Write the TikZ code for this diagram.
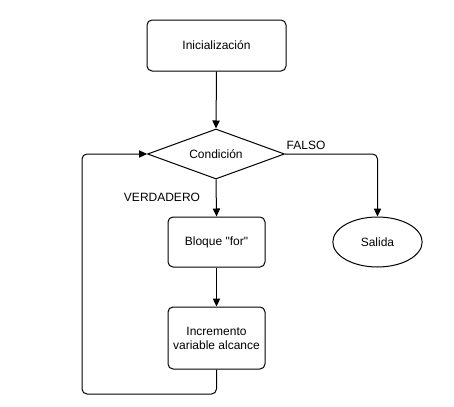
\documentclass[tikz,border=0pt]{standalone}
\usepackage{fontspec}
\setmainfont{Liberation Sans}[Ligatures=TeXOff]
\usetikzlibrary{shapes.geometric,arrows.meta}
\begin{document}
\begin{tikzpicture}[x=0.75pt,y=-0.75pt,
  every node/.style={font=\fontsize{9pt}{10.5pt}\selectfont},
  procbox/.style={draw,line width=0.75pt,rounded corners=3.75pt,inner sep=0pt,align=center},
  decision/.style={draw,line width=0.75pt,shape=diamond,aspect=2.7,inner sep=0pt,minimum width=102.75pt,minimum height=37.5pt},
  terminal/.style={draw,line width=0.75pt,shape=ellipse,inner sep=0pt,minimum width=67pt,minimum height=37.5pt},
  flow/.style={line width=0.75pt,-{Triangle[length=6pt,width=5.5pt]},rounded corners=3.75pt},
  lbl/.style={inner sep=0pt}]
\useasboundingbox (0,0) rectangle (454,407);
\node[procbox,minimum width=104.25pt,minimum height=38.25pt] (init) at (216.5,45.5) {Inicialización};
\node[decision] (cond) at (216,154) {Condición};
\node[procbox,minimum width=72.75pt,minimum height=37.5pt] (body) at (216.5,242) {Bloque "for"};
\node[procbox,minimum width=72.75pt,minimum height=46.5pt] (inc) at (216.5,338) {Incremento\\variable alcance};
\node[terminal] (exit) at (377.5,242) {Salida};
\node[lbl] (lfalse) at (306,145) {FALSO};
\node[lbl] (ltrue) at (162,197) {VERDADERO};
\coordinate (c1) at (377.5,154);
\coordinate (c2) at (216.5,394);
\coordinate (c3) at (82,394);
\coordinate (c4) at (82,154);
\draw[flow] (init.south) -- (cond.north);
\draw[flow] (cond.south) -- (body.north);
\draw[flow] (body.south) -- (inc.north);
\draw[flow] (cond.east) -- (c1) -- (exit.north);
\draw[flow] (inc.south) -- (c2) -- (c3) -- (c4) -- (cond.west);
\end{tikzpicture}
\end{document}
